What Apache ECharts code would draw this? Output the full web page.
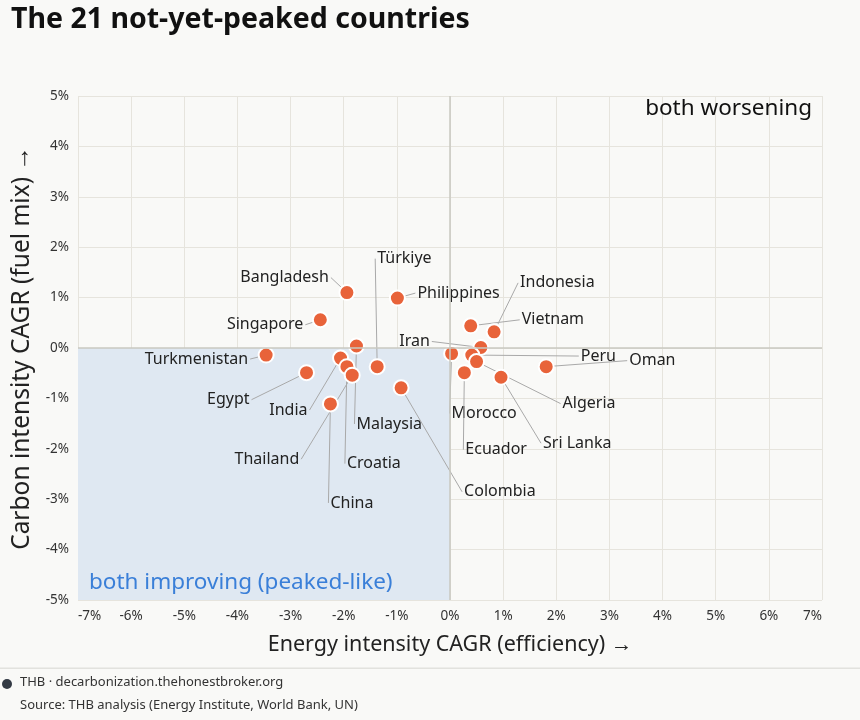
<!DOCTYPE html>
<html>
<head>
<meta charset="utf-8">
<style>
  html, body { margin: 0; padding: 0; background: #f9f9f7; }
  #chart { width: 860px; height: 720px; }
</style>
<script src="https://cdn.jsdelivr.net/npm/echarts@6/dist/echarts.min.js"></script>
</head>
<body>
<div id="chart"></div>
<script>
// countries that have not yet peaked emissions
var countries = ['Bangladesh', 'Philippines', 'Singapore', 'Turkmenistan', 'Egypt', 'Malaysia',
    'India', 'Croatia', 'Thailand', 'China', 'Türkiye', 'Colombia', 'Vietnam', 'Indonesia',
    'Iran', 'Morocco', 'Peru', 'Algeria', 'Sri Lanka', 'Ecuador', 'Oman'];
// energy intensity CAGR, % (x)
var energyCagr = [-1.94, -0.99, -2.44, -3.46, -2.70, -1.76, -2.06, -1.94, -1.84, -2.25, -1.37,
    -0.92, 0.39, 0.83, 0.58, 0.03, 0.41, 0.50, 0.96, 0.27, 1.81];
// carbon intensity CAGR, % (y)
var carbonCagr = [1.10, 0.99, 0.56, -0.14, -0.49, 0.04, -0.20, -0.37, -0.54, -1.11, -0.37,
    -0.79, 0.44, 0.32, 0.01, -0.11, -0.14, -0.27, -0.58, -0.49, -0.37];

// where each name sits relative to its dot (px offset + text alignment)
var labelOffsets = [
    [-18, -15, 'right'], [20, -5, 'left'], [-17, 5, 'right'], [-18, 4, 'right'],
    [-57, 27, 'right'], [0, 78, 'left'], [-33, 52, 'right'], [0, 97, 'left'],
    [-53, 84, 'right'], [0, 99, 'left'], [0, -108, 'left'], [63, 104, 'left'],
    [51, -6, 'left'], [26, -49, 'left'], [-51, -6, 'right'], [0, 60, 'left'],
    [109, 1, 'left'], [86, 42, 'left'], [42, 66, 'left'], [1, 77, 'left'], [83, -6, 'left']
];

var font = '"Noto Sans", "Open Sans", sans-serif';

var points = countries.map(function (name, i) {
    return { name: name, value: [energyCagr[i], carbonCagr[i]] };
});

// leader line + name for each country
function renderLabel(params, api) {
    var p = api.coord([api.value(0), api.value(1)]);
    var o = labelOffsets[params.dataIndex];
    var tx = p[0] + o[0];
    var ty = p[1] + o[1];
    var lx = o[2] === 'left' ? tx - 2 : tx + 2;
    return {
        type: 'group',
        children: [{
            type: 'line',
            shape: { x1: p[0], y1: p[1], x2: lx, y2: ty },
            style: { stroke: '#a9a9a9', lineWidth: 1 }
        }, {
            type: 'text',
            style: {
                x: tx, y: ty,
                text: countries[params.dataIndex],
                align: o[2],
                verticalAlign: 'middle',
                fontSize: 16,
                fontFamily: font,
                fill: '#222'
            }
        }]
    };
}

var chart = echarts.init(document.getElementById('chart'));

var option = {
    backgroundColor: '#f9f9f7',
    animation: false,
    textStyle: { fontFamily: font },
    title: {
        text: 'The 21 not-yet-peaked countries',
        left: 6,
        top: 0,
        textStyle: { fontFamily: font, fontSize: 28.5, fontWeight: 'bold', color: '#111' }
    },
    grid: { left: 78, right: 38, top: 96, bottom: 120, outerBoundsMode: 'none', containLabel: false },
    xAxis: {
        type: 'value',
        min: -7,
        max: 7,
        interval: 1,
        name: 'Energy intensity CAGR (efficiency) →',
        nameLocation: 'middle',
        nameGap: 34,
        nameTextStyle: { fontSize: 21.5, color: '#222', fontFamily: font },
        axisLine: { show: false },
        axisTick: { show: false },
        axisLabel: {
            formatter: '{value}%', fontSize: 13.5, color: '#333', margin: 9,
            alignMinLabel: 'left', alignMaxLabel: 'right'
        },
        splitLine: { show: true, lineStyle: { color: '#e6e4dd', width: 1 } }
    },
    yAxis: {
        type: 'value',
        min: -5,
        max: 5,
        interval: 1,
        name: 'Carbon intensity CAGR (fuel mix) →',
        nameLocation: 'middle',
        nameGap: 42,
        nameTextStyle: { fontSize: 24.5, color: '#222', fontFamily: font },
        axisLine: { show: false },
        axisTick: { show: false },
        axisLabel: { formatter: '{value}%', fontSize: 13.5, color: '#333', margin: 9 },
        splitLine: { show: true, lineStyle: { color: '#e6e4dd', width: 1 } }
    },
    series: [{
        type: 'custom',
        renderItem: renderLabel,
        data: points,
        clip: false,
        silent: true,
        z: 2
    }, {
        type: 'scatter',
        data: points,
        symbolSize: 15,
        z: 3,
        itemStyle: { color: '#e8633a', borderColor: '#ffffff', borderWidth: 2, opacity: 1 },
        emphasis: { disabled: true },
        markArea: {
            silent: true,
            data: [
                [{
                    coord: [-7, -5],
                    itemStyle: { color: '#dfe8f2' },
                    label: {
                        show: true, position: 'insideBottomLeft', distance: 11,
                        offset: [0, 5],
                        formatter: 'both improving (peaked-like)',
                        fontSize: 22.5, color: '#3a7fd8', fontFamily: font
                    }
                }, { coord: [0, 0] }],
                [{
                    coord: [0, 0],
                    itemStyle: { color: 'rgba(0,0,0,0)' },
                    label: {
                        show: true, position: 'insideTopRight', distance: 10,
                        offset: [0, -9],
                        formatter: 'both worsening',
                        fontSize: 22.5, color: '#111', fontFamily: font
                    }
                }, { coord: [7, 5] }]
            ]
        },
        markLine: {
            silent: true,
            symbol: 'none',
            label: { show: false },
            lineStyle: { color: '#c8c8c0', width: 1.5, type: 'solid' },
            data: [{ xAxis: 0 }, { yAxis: 0 }]
        }
    }],
    graphic: [
        { type: 'rect', shape: { x: 0, y: 667.5, width: 860, height: 1.5 }, style: { fill: '#e2e2de' } },
        { type: 'circle', shape: { cx: 7, cy: 684, r: 5 }, style: { fill: '#333a44' } },
        {
            type: 'text', left: 20, top: 676,
            style: { text: 'THB · decarbonization.thehonestbroker.org', fontSize: 13, fill: '#333', fontFamily: font }
        },
        {
            type: 'text', left: 20, top: 699,
            style: { text: 'Source: THB analysis (Energy Institute, World Bank, UN)', fontSize: 13, fill: '#333', fontFamily: font }
        }
    ]
};

chart.setOption(option);
</script>
</body>
</html>
